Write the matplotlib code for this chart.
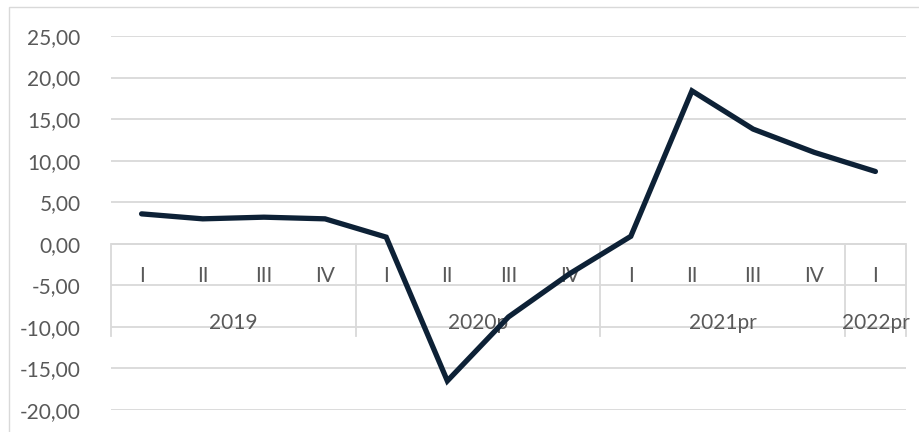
import matplotlib.pyplot as plt
from matplotlib.patches import Rectangle

# Quarterly growth rate (%)
quarters = ['I', 'II', 'III', 'IV', 'I', 'II', 'III', 'IV', 'I', 'II', 'III', 'IV', 'I']
years = ['2019', '2020p', '2021pr', '2022pr']
year_sizes = [4, 4, 4, 1]
values = [3.6, 3.0, 3.2, 3.0, 0.8, -16.5, -8.8, -3.6, 0.9, 18.4, 13.8, 11.0, 8.7]
yticks = [-20, -15, -10, -5, 0, 5, 10, 15, 20, 25]

plt.rcParams['font.family'] = ['Lato', 'DejaVu Sans']
text_color = '#595959'
grid_color = '#d9d9d9'

fig = plt.figure(figsize=(9.2, 4.32), dpi=100)
fig.patches.append(Rectangle((9 / 920, -0.1), 1.2, (432 - 7) / 432 + 0.1,
                             transform=fig.transFigure, fill=False,
                             edgecolor=grid_color, linewidth=1.0))

ax = fig.add_axes([111 / 920, (432 - 410) / 432, 795 / 920, (410 - 36) / 432])
ax.set_xlim(0, len(values))
ax.set_ylim(-20, 25)
for s in ax.spines.values():
    s.set_visible(False)
ax.set_xticks([])
ax.set_yticks(yticks)
ax.set_yticklabels([f'{v:.2f}'.replace('.', ',') for v in yticks],
                   fontsize=15, color=text_color)
ax.tick_params(axis='y', length=0, pad=22)

for v in yticks:
    ax.axhline(v, color=grid_color, linewidth=1.3, zorder=1)

# multi-level category axis
ax.axhline(0, color=grid_color, linewidth=1.3, zorder=1)
edges = [0]
for n in year_sizes:
    edges.append(edges[-1] + n)
for e in edges:
    ax.plot([e, e], [0, -11.1], color=grid_color, linewidth=1.3, zorder=1,
            clip_on=False)

for i, q in enumerate(quarters):
    ax.text(i + 0.5, -3.85, q, ha='center', va='center', fontsize=15,
            color=text_color, zorder=2)
for k, y in enumerate(years):
    ax.text((edges[k] + edges[k + 1]) / 2, -9.5, y, ha='center', va='center',
            fontsize=15, color=text_color, zorder=2)

x = [i + 0.5 for i in range(len(values))]
ax.plot(x, values, color='#0d2136', linewidth=3.8, solid_capstyle='round',
        solid_joinstyle='miter', zorder=3, clip_on=False)

fig.savefig('out.png', dpi=100)
